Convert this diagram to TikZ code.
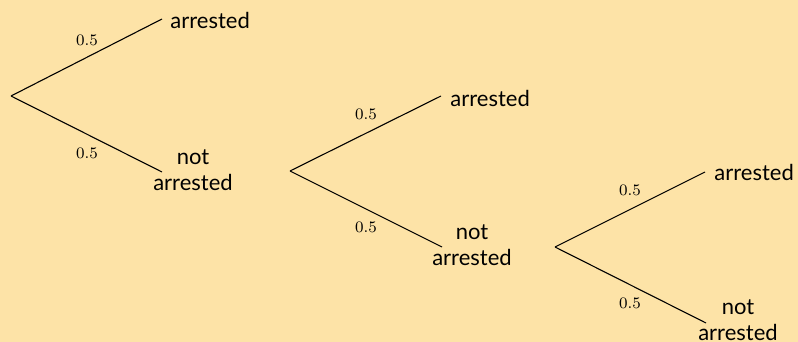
\documentclass[tikz,border=0pt]{standalone}
\usepackage{fontspec}
\setsansfont{Lato}
\definecolor{bgc}{RGB}{253,227,167}
\begin{document}
\begin{tikzpicture}[x=0.5pt,y=-0.5pt,
  edge/.style={draw=black,line width=0.55pt},
  outc/.style={font=\sffamily\fontsize{11}{13}\selectfont,inner sep=0pt},
  prob/.style={font=\fontsize{8.5}{10}\selectfont,inner sep=0pt}]
\fill[bgc] (0,0) rectangle (798,342);
\useasboundingbox (0,0) rectangle (798,342);
% tree 1
\coordinate (r1) at (11,96);
\coordinate (u1) at (162,19);
\coordinate (d1) at (162,172);
\node[outc,anchor=west] (a1) at (170,20) {arrested};
\node[outc,align=center] (n1) at (193,170) {not\\arrested};
\draw[edge] (r1) -- (u1);
\draw[edge] (r1) -- (d1);
\node[prob] (p1u) at (87,40) {$0.5$};
\node[prob] (p1d) at (87,153) {$0.5$};
% tree 2
\coordinate (r2) at (290,171);
\coordinate (u2) at (441,96);
\coordinate (d2) at (442,247);
\node[outc,anchor=west] (a2) at (450,98) {arrested};
\node[outc,align=center] (n2) at (472,245) {not\\arrested};
\draw[edge] (r2) -- (u2);
\draw[edge] (r2) -- (d2);
\node[prob] (p2u) at (366,114) {$0.5$};
\node[prob] (p2d) at (366,227) {$0.5$};
% tree 3
\coordinate (r3) at (555,247);
\coordinate (u3) at (705,172);
\coordinate (d3) at (706,323);
\node[outc,anchor=west] (a3) at (714,172) {arrested};
\node[outc,align=center] (n3) at (738,320) {not\\arrested};
\draw[edge] (r3) -- (u3);
\draw[edge] (r3) -- (d3);
\node[prob] (p3u) at (630,190) {$0.5$};
\node[prob] (p3d) at (630,303) {$0.5$};
\end{tikzpicture}
\end{document}
